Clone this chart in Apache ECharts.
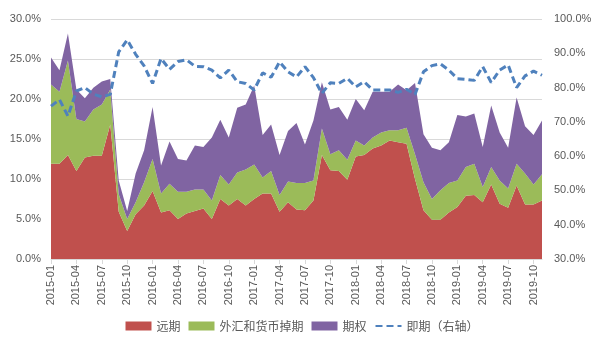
<!DOCTYPE html>
<html>
<head>
<meta charset="utf-8">
<script src="https://cdn.jsdelivr.net/npm/echarts@6/dist/echarts.min.js"></script>
<style>
html, body { margin: 0; padding: 0; background: #fff; }
#chart { width: 604px; height: 351px; }
</style>
</head>
<body>
<div id="chart"></div>
<script>
const months = [
    '2015-01', '2015-02', '2015-03', '2015-04', '2015-05', '2015-06', '2015-07', '2015-08', '2015-09', '2015-10', '2015-11', '2015-12',
    '2016-01', '2016-02', '2016-03', '2016-04', '2016-05', '2016-06', '2016-07', '2016-08', '2016-09', '2016-10', '2016-11', '2016-12',
    '2017-01', '2017-02', '2017-03', '2017-04', '2017-05', '2017-06', '2017-07', '2017-08', '2017-09', '2017-10', '2017-11', '2017-12',
    '2018-01', '2018-02', '2018-03', '2018-04', '2018-05', '2018-06', '2018-07', '2018-08', '2018-09', '2018-10', '2018-11', '2018-12',
    '2019-01', '2019-02', '2019-03', '2019-04', '2019-05', '2019-06', '2019-07', '2019-08', '2019-09', '2019-10', '2019-11'
];

// 远期
const forward = [
    11.9, 11.9, 13.0, 11.0, 12.7, 12.9, 12.9, 16.8, 5.9, 3.5, 5.6, 6.7,
    8.5, 5.8, 6.1, 5.0, 5.7, 6.0, 6.3, 5.0, 7.5, 6.7, 7.5, 6.7,
    7.5, 8.2, 8.2, 5.9, 7.1, 6.2, 6.1, 7.3, 13.0, 11.1, 11.0, 9.9,
    12.8, 13.0, 13.8, 14.2, 14.8, 14.6, 14.4, 10.0, 6.1, 4.9, 4.9, 5.8,
    6.5, 7.9, 8.0, 7.1, 9.3, 6.9, 6.4, 9.2, 6.8, 6.8, 7.3
];

// 外汇和货币掉期
const swap = [
    9.9, 9.0, 11.8, 6.5, 4.5, 5.8, 6.4, 4.4, 2.2, 1.5, 1.5, 2.9,
    4.0, 2.4, 3.3, 3.4, 2.7, 2.7, 2.4, 2.3, 3.0, 2.6, 3.3, 4.5,
    4.3, 2.0, 2.8, 2.1, 2.6, 3.3, 3.4, 2.5, 3.3, 2.0, 2.6, 2.5,
    2.0, 1.2, 1.4, 1.6, 1.3, 1.5, 2.0, 3.1, 3.5, 2.6, 3.7, 3.7,
    3.3, 3.6, 3.9, 1.9, 2.2, 2.9, 2.4, 2.7, 3.9, 2.5, 3.3
];

// 期权
const option = [
    3.4, 2.7, 3.4, 3.7, 2.9, 2.7, 2.9, 1.3, 1.7, 1.0, 3.6, 4.0,
    6.5, 3.5, 5.3, 4.1, 3.9, 5.5, 5.3, 7.9, 6.9, 5.9, 8.1, 8.1,
    9.9, 5.3, 5.8, 5.0, 6.3, 7.5, 4.8, 7.5, 5.8, 5.6, 5.4, 5.0,
    5.2, 4.4, 5.7, 5.1, 4.8, 5.7, 4.7, 8.9, 6.0, 6.4, 5.0, 5.1,
    8.2, 6.3, 6.3, 5.0, 7.7, 6.0, 5.1, 8.3, 5.9, 6.2, 6.7
];

// 即期（右轴）
const spot = [
    74.6, 76.5, 71.7, 79.0, 80.0, 78.1, 77.3, 78.0, 90.4, 93.9, 89.7, 86.3,
    81.2, 88.5, 85.3, 87.6, 88.1, 86.2, 86.1, 85.1, 82.8, 85.1, 81.7, 81.2,
    79.3, 84.3, 83.0, 87.5, 84.6, 83.1, 86.1, 82.9, 78.3, 81.4, 81.2, 82.7,
    80.2, 81.7, 79.3, 79.3, 79.3, 78.6, 79.5, 78.0, 84.6, 86.4, 86.9, 85.1,
    82.6, 82.4, 82.1, 86.1, 81.5, 85.1, 86.6, 80.0, 83.4, 84.8, 83.6
];

const leftTicks = { min: 0, max: 30, interval: 5 };
const rightTicks = { min: 30, max: 100, interval: 10 };

const textColor = '#595959';
const gridColor = '#d9d9d9';
const font = 'Liberation Sans, Noto Sans CJK SC, sans-serif';

function areaSeries(name, data, color) {
    return {
        name: name,
        type: 'line',
        stack: 'total',
        data: data,
        symbol: 'none',
        lineStyle: { width: 0 },
        itemStyle: { color: color },
        areaStyle: { color: color, opacity: 1 },
        z: 2
    };
}

const chart = echarts.init(document.getElementById('chart'));

chart.setOption({
    animation: false,
    textStyle: { fontFamily: font },
    grid: { left: 51, right: 62, top: 19, bottom: 92 },
    legend: {
        bottom: 14,
        left: 'center',
        itemWidth: 26,
        itemHeight: 9,
        itemGap: 8,
        textStyle: { color: textColor, fontSize: 12, fontFamily: 'Noto Sans CJK SC' },
        data: [
            { name: '远期', icon: 'rect' },
            { name: '外汇和货币掉期', icon: 'rect' },
            { name: '期权', icon: 'rect' },
            { name: '即期（右轴）', itemStyle: { opacity: 0 } }
        ]
    },
    xAxis: {
        type: 'category',
        data: months,
        boundaryGap: false,
        axisLine: { lineStyle: { color: gridColor } },
        axisTick: { interval: 2, length: 5, lineStyle: { color: gridColor } },
        axisLabel: { interval: 2, rotate: 90, color: textColor, fontSize: 11, margin: 6 },
        splitLine: { show: false }
    },
    yAxis: [
        {
            type: 'value',
            min: leftTicks.min,
            max: leftTicks.max,
            interval: leftTicks.interval,
            axisLine: { show: false },
            axisTick: { show: false },
            axisLabel: { color: textColor, fontSize: 11, margin: 10, formatter: v => v.toFixed(1) + '%' },
            splitLine: { lineStyle: { color: gridColor } }
        },
        {
            type: 'value',
            min: rightTicks.min,
            max: rightTicks.max,
            interval: rightTicks.interval,
            axisLine: { show: false },
            axisTick: { show: false },
            axisLabel: { color: textColor, fontSize: 11, margin: 12, formatter: v => v.toFixed(1) + '%' },
            splitLine: { show: false }
        }
    ],
    series: [
        areaSeries('远期', forward, '#c0504d'),
        areaSeries('外汇和货币掉期', swap, '#9bbb59'),
        areaSeries('期权', option, '#8064a2'),
        {
            name: '即期（右轴）',
            type: 'line',
            yAxisIndex: 1,
            data: spot,
            symbol: 'none',
            itemStyle: { color: '#4f81bd' },
            lineStyle: { color: '#4f81bd', width: 3, type: [7, 4] },
            z: 3
        }
    ]
});
</script>
</body>
</html>
